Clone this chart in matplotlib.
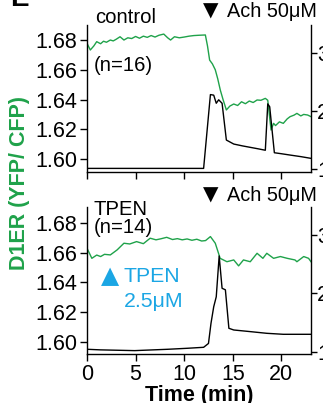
import matplotlib
matplotlib.use("Agg")
import matplotlib.pyplot as plt

plt.rcParams['font.family'] = ['Liberation Sans', 'DejaVu Sans']

GREEN = "#1fa24a"
CYAN = "#1ba6e4"

# ---- Top panel (control) ----
ctrl_green_t = [0, 0.34, 0.7, 1.0, 1.4, 1.7, 2.0, 2.4, 2.7, 3.0, 3.4, 3.8, 4.2, 4.6, 5.0, 5.4, 5.8,
                6.2, 6.6, 7.0, 7.4, 7.9, 8.3, 8.6, 9.0, 9.5, 10.0, 10.5, 11.0, 11.5, 12.18, 12.4,
                12.62, 12.9, 13.2, 13.45, 13.72, 14.0, 14.34, 14.7, 15.1, 15.5, 15.9, 16.3, 16.7,
                17.1, 17.5, 17.9, 18.35, 18.6, 18.94, 19.2, 19.4, 19.8, 20.2, 20.6, 20.9, 21.3,
                21.6, 22.0, 22.3, 22.7, 23.05]
ctrl_green_v = [1.6778, 1.6733, 1.6760, 1.6789, 1.6775, 1.6792, 1.6785, 1.6800, 1.6794, 1.6805,
                1.6822, 1.6800, 1.6815, 1.6810, 1.6824, 1.6812, 1.6826, 1.6818, 1.6830, 1.6820,
                1.6832, 1.6840, 1.6815, 1.6800, 1.6822, 1.6815, 1.6820, 1.6826, 1.6830, 1.6832,
                1.6834, 1.6760, 1.6665, 1.6640, 1.6600, 1.6540, 1.6463, 1.6400, 1.6330, 1.6356,
                1.6370, 1.6360, 1.6385, 1.6372, 1.6390, 1.6380, 1.6397, 1.6395, 1.6408, 1.6395,
                1.6195, 1.6240, 1.6225, 1.6250, 1.6240, 1.6270, 1.6285, 1.6295, 1.6307, 1.6290,
                1.6300, 1.6296, 1.6285]

ctrl_black_t = [0, 5, 10, 12.0, 12.7, 13.04, 13.3, 13.55, 13.9, 14.34, 15.1, 16.0, 16.8, 17.6,
                18.35, 18.6, 18.8, 19.28, 20.0, 20.9, 22.0, 23.05]
ctrl_black_v = [1.017, 1.017, 1.017, 1.017, 2.29, 2.28, 2.14, 2.20, 2.14, 1.506, 1.437, 1.405,
                1.38, 1.355, 1.33, 2.13, 2.08, 1.287, 1.27, 1.247, 1.22, 1.19]

# ---- Bottom panel (TPEN) ----
tpen_green_t = [0, 0.5, 1.0, 1.4, 1.8, 2.4, 3.1, 3.8, 4.4, 5.1, 5.8, 6.5, 7.1, 7.6, 8.2, 8.8,
                9.3, 9.8, 10.3, 10.8, 11.3, 11.8, 12.2, 12.7, 13.2, 13.7, 14.4, 15.1, 15.6, 16.1,
                16.8, 17.5, 18.1, 18.5, 19.2, 19.9, 20.6, 21.4, 21.6, 22.3, 22.8, 23.05]
tpen_green_v = [1.6631, 1.6563, 1.6585, 1.6575, 1.6590, 1.6586, 1.6620, 1.6665, 1.6660, 1.6676,
                1.6662, 1.6699, 1.6688, 1.6695, 1.6705, 1.6690, 1.6696, 1.6688, 1.6694, 1.6685,
                1.6692, 1.6680, 1.6683, 1.6710, 1.6665, 1.6563, 1.6540, 1.6552, 1.6512, 1.6552,
                1.6540, 1.6597, 1.6563, 1.6597, 1.6563, 1.6575, 1.6563, 1.6552, 1.6540, 1.6575,
                1.6563, 1.6540]

tpen_black_t = [0, 1.4, 4.9, 8.3, 10.3, 12.0, 12.5, 12.76, 13.04, 13.3, 13.6, 13.9, 14.24, 14.6,
                15.1, 16.8, 18.5, 20.2, 23.05]
tpen_black_v = [1.04, 1.03, 1.017, 1.04, 1.057, 1.074, 1.14, 1.486, 1.77, 1.94, 2.64, 2.086,
                2.06, 1.40, 1.371, 1.343, 1.314, 1.297, 1.297]

left_ticks = [1.60, 1.62, 1.64, 1.66, 1.68]
left_ticklabels = ["1.60", "1.62", "1.64", "1.66", "1.68"]
right_ticks = [1, 2, 3]
right_ticklabels = ["1", "2", "3"]
x_ticks = [0, 5, 10, 15, 20]
x_ticklabels = ["0", "5", "10", "15", "20"]

W, H = 323, 403
fig = plt.figure(figsize=(W / 100, H / 100), dpi=100)

FS = 15.5
TFS = 14.3

def px(x, y):
    return x / W, 1 - y / H

def make_panel(rect, gt, gv, bt, bv, show_xlabels, ylim_l, ylim_r):
    ax = fig.add_axes(rect)
    ax.plot(gt, gv, color=GREEN, lw=1.0)
    ax.set_xlim(0, 23.05)
    ax.set_ylim(*ylim_l)
    ax.set_yticks(left_ticks)
    ax.set_yticklabels(left_ticklabels)
    ax.set_xticks(x_ticks)
    if show_xlabels:
        ax.set_xticklabels(x_ticklabels)
    else:
        ax.set_xticklabels([])
    ax.spines['top'].set_visible(False)
    ax.spines['right'].set_visible(False)
    ax.tick_params(direction='out', length=5, width=1, labelsize=FS, pad=2)
    for s in ax.spines.values():
        s.set_linewidth(1)
    ax2 = ax.twinx()
    ax2.plot(bt, bv, color='black', lw=1.0)
    ax2.set_ylim(*ylim_r)
    ax2.set_yticks(right_ticks)
    ax2.set_yticklabels(right_ticklabels)
    ax2.spines['top'].set_visible(False)
    ax2.spines['left'].set_visible(False)
    ax2.spines['bottom'].set_visible(False)
    ax2.spines['right'].set_linewidth(1)
    ax2.tick_params(direction='out', length=4, width=1, labelsize=FS, pad=0.5)
    return ax, ax2

left = 87 / W
width = (311 - 87) / W
top_ax, _ = make_panel([left, 1 - 171.7 / H, width, (171.7 - 25) / H],
                       ctrl_green_t, ctrl_green_v, ctrl_black_t, ctrl_black_v,
                       False, (1.5915, 1.6901), (0.96, 3.49))
bot_ax, _ = make_panel([left, 1 - 354.3 / H, width, (354.3 - 207) / H],
                       tpen_green_t, tpen_green_v, tpen_black_t, tpen_black_v,
                       True, (1.5914, 1.691), (0.954, 3.48))

bot_ax.set_xlabel("Time (min)", fontsize=FS, fontweight='bold', labelpad=0)

fig.text(*px(20, 183), "D1ER (YFP/ CFP)", color=GREEN, fontsize=FS, fontweight='bold',
         rotation=90, ha='center', va='center')

fig.text(*px(10, 6), "E", fontsize=20, fontweight='bold', ha='left', va='baseline')

fig.text(*px(95, 23), "control", fontsize=TFS + 0.3, ha='left', va='baseline')
fig.text(*px(94, 71), "(n=16)", fontsize=TFS + 0.3, ha='left', va='baseline')

fig.text(*px(94, 215), "TPEN", fontsize=TFS + 0.3, ha='left', va='baseline')
fig.text(*px(94, 233), "(n=14)", fontsize=TFS + 0.3, ha='left', va='baseline')

# Ach annotations (triangle + label)
for yb in (17, 201):
    fig.text(*px(203, yb), "\u25BC", fontsize=14.5, family=['DejaVu Sans'],
             ha='left', va='baseline')
    fig.text(*px(227, yb), "Ach 50\u03BCM", fontsize=TFS, ha='left', va='baseline')

fig.text(*px(101, 283), "\u25B2", color=CYAN, fontsize=17, family=['DejaVu Sans'],
         ha='left', va='baseline')
fig.text(*px(123, 282), "TPEN", color=CYAN, fontsize=15.3, ha='left', va='baseline')
fig.text(*px(124, 307), "2.5\u03BCM", color=CYAN, fontsize=15.3, ha='left', va='baseline')

fig.savefig("out.png", dpi=100)
